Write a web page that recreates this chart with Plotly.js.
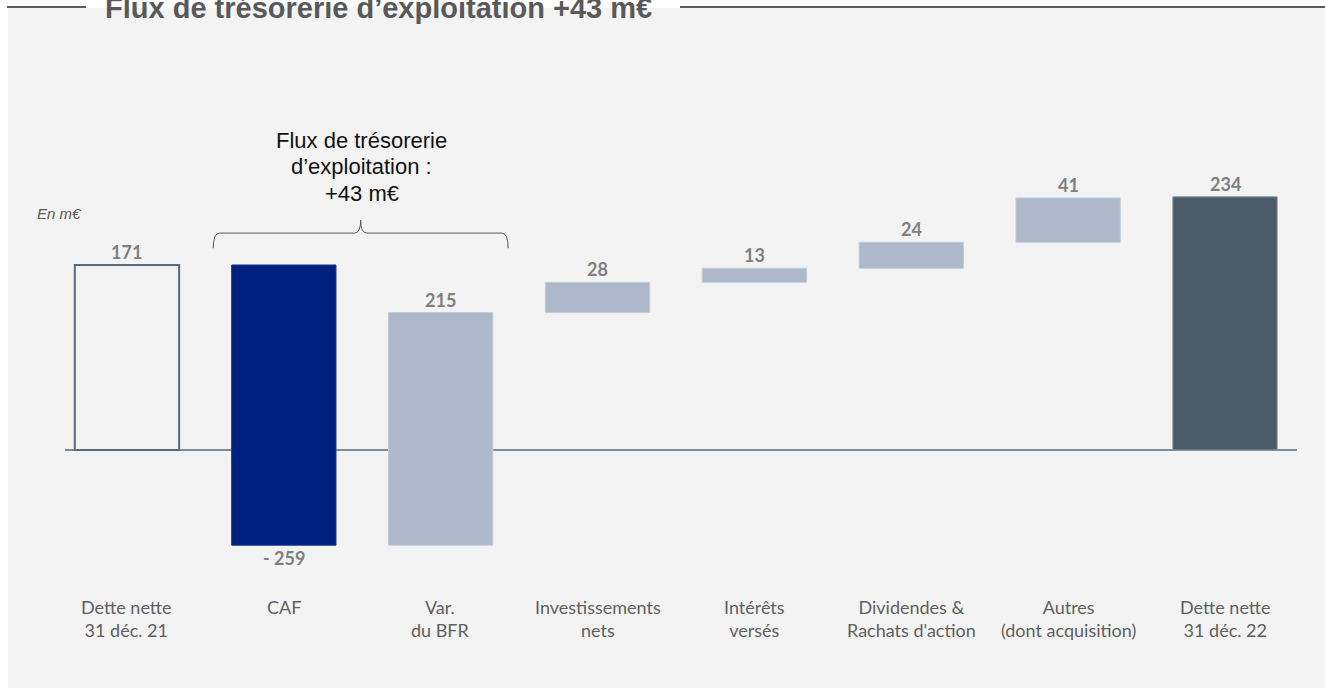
<!DOCTYPE html>
<html>
<head>
<meta charset="utf-8">
<script src="https://cdn.plot.ly/plotly-3.0.1.min.js"></script>
<style>html,body{margin:0;padding:0;background:#fff;}#chart{width:1325px;height:688px;}</style>
</head>
<body>
<div id="chart"></div>
<script>
// ---- data ----
const categories = ['Dette nette<br>31 déc. 21', 'CAF', 'Var.<br>du BFR', 'Investissements<br>nets', 'Intérêts<br>versés', 'Dividendes &<br>Rachats d\'action', 'Autres<br>(dont acquisition)', 'Dette nette<br>31 déc. 22'];
const values = [171, -259, 215, 28, 13, 24, 41, 234];
const measures = ['absolute', 'relative', 'relative', 'relative', 'relative', 'relative', 'relative', 'absolute'];
const valueLabels = ['171', '- 259', '215', '28', '13', '24', '41', '234'];
const chartTitle = 'Flux de trésorerie d’exploitation +43 m€';
const bracketLines = ['Flux de trésorerie', 'd’exploitation :', '+43 m€'];
const unitText = 'En m€';

// ---- styles ----
const fillColors = ['rgba(0,0,0,0)', '#002080', '#adb9cb', '#adb9cb', '#adb9cb', '#adb9cb', '#adb9cb', '#4a5a67'];
const lineColors = ['#5a6a79', '#1a3590', '#c3ccd8', '#c3ccd8', '#c3ccd8', '#c3ccd8', '#c3ccd8', '#8a97a2'];
const lineWidths = [2, 1, 1, 1, 1, 1, 1, 1];

// waterfall bases built from values
const xs = categories.map((_, i) => i);
const bases = [], heights = [], tops = [], bottoms = [];
let running = 0;
values.forEach((v, i) => {
  if (measures[i] === 'absolute') { bases.push(0); heights.push(v); running = v; }
  else { bases.push(running); heights.push(v); running += v; }
  tops.push(Math.max(bases[i], bases[i] + heights[i]));
  bottoms.push(Math.min(bases[i], bases[i] + heights[i]));
});

const trace = {
  type: 'bar', x: xs, y: heights, base: bases, width: 0.665,
  marker: { color: fillColors, line: { color: lineColors, width: lineWidths } },
  hoverinfo: 'none', showlegend: false
};

const annotations = [];
values.forEach((v, i) => {
  const neg = v < 0;
  annotations.push({
    x: i, y: neg ? bottoms[i] : tops[i], xref: 'x', yref: 'y',
    text: '<b>' + valueLabels[i] + '</b>', showarrow: false,
    yanchor: neg ? 'top' : 'bottom',
    font: { family: 'Lato', size: 18, color: '#7f7f7f' }
  });
  annotations.push({
    x: i, y: -133, xref: 'x', yref: 'y', text: categories[i], showarrow: false,
    yanchor: 'top', font: { family: 'Lato', size: 18, color: '#5f5f5f' }
  });
});
const bracketYs = [286.5, 261.6, 237.5];
bracketLines.forEach((t, k) => {
  annotations.push({
    x: 1.498, y: bracketYs[k], xref: 'x', yref: 'y', text: t, showarrow: false,
    yanchor: 'middle', font: { family: 'Liberation Sans, Arial', size: 22, color: '#111' }
  });
});
annotations.push({
  x: -0.0244, y: 219, xref: 'paper', yref: 'y', text: '<i>' + unitText + '</i>', showarrow: false,
  xanchor: 'left', yanchor: 'middle', font: { family: 'Liberation Sans, Arial', size: 15, color: '#595959' }
});
annotations.push({
  x: (378 - 65) / 1232, y: (660 - 8) / 560, xref: 'paper', yref: 'paper',
  text: '<b>' + chartTitle + '</b>', showarrow: false, xanchor: 'center', yanchor: 'middle',
  font: { family: 'Liberation Sans, Arial', size: 29, color: '#595959' }
});

// bracket (brace) path in data coords
const bx0 = 0.55, bx1 = 2.43, bxc = 1.49, byTop = 200.5, byEnd = 186.5, byTip = 212.5, r = 0.04;
const bracePath = `M ${bx0},${byEnd} Q ${bx0},${byTop} ${bx0 + r},${byTop} L ${bxc - r},${byTop} Q ${bxc},${byTop} ${bxc},${byTip} Q ${bxc},${byTop} ${bxc + r},${byTop} L ${bx1 - r},${byTop} Q ${bx1},${byTop} ${bx1},${byEnd}`;

const lineY = (660 - 7) / 560;
const shapes = [
  { type: 'rect', xref: 'paper', yref: 'paper', x0: (8 - 65) / 1232, x1: 1.05, y0: -0.1, y1: (660 - 8) / 560,
    fillcolor: '#f3f3f3', line: { width: 0 }, layer: 'below' },
  { type: 'line', xref: 'paper', yref: 'paper', x0: (7 - 65) / 1232, x1: (86 - 65) / 1232, y0: lineY, y1: lineY,
    line: { color: '#595959', width: 2 } },
  { type: 'line', xref: 'paper', yref: 'paper', x0: (680 - 65) / 1232, x1: 1.03, y0: lineY, y1: lineY,
    line: { color: '#595959', width: 2 } },
  { type: 'path', xref: 'x', yref: 'y', path: bracePath, line: { color: '#555', width: 1 } }
];

const layout = {
  width: 1325, height: 688,
  margin: { l: 65, r: 28, t: 100, b: 28, pad: 0 },
  paper_bgcolor: '#ffffff', plot_bgcolor: 'rgba(0,0,0,0)',
  xaxis: { range: [-0.395, 7.459], showgrid: false, zeroline: false, showticklabels: false, showline: false, ticks: '', fixedrange: true },
  yaxis: { range: [-194.1, 323.5], showgrid: false, zeroline: true, zerolinecolor: '#7f8c99', zerolinewidth: 2,
           showticklabels: false, showline: false, ticks: '', fixedrange: true },
  annotations: annotations, shapes: shapes, showlegend: false, bargap: 0
};

Plotly.newPlot('chart', [trace], layout, { staticPlot: true, displayModeBar: false });
</script>
</body>
</html>
